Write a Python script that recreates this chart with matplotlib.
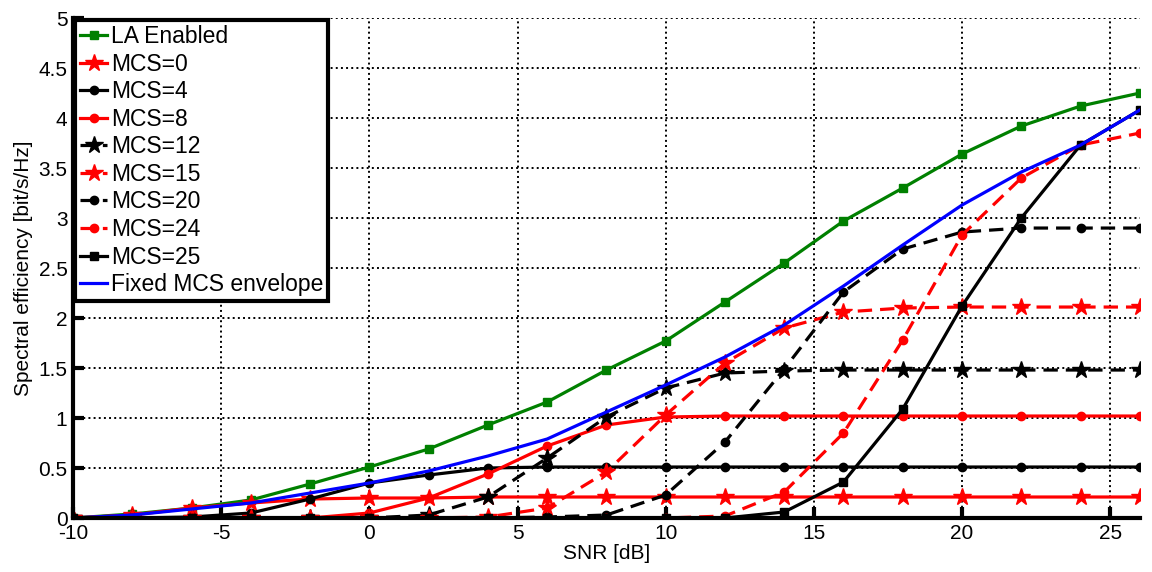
import numpy as np
import matplotlib
matplotlib.use("Agg")
import matplotlib.pyplot as plt
from matplotlib.ticker import FormatStrFormatter

plt.rcParams['font.family'] = ['Liberation Sans', 'DejaVu Sans']
plt.rcParams['axes.unicode_minus'] = False

# SNR grid [dB]
snr = list(range(-10, 27, 2))

# spectral efficiency [bit/s/Hz]
la_enabled = [0.0, 0.04, 0.10, 0.18, 0.34, 0.51, 0.69, 0.93, 1.16, 1.48,
              1.77, 2.16, 2.55, 2.97, 3.30, 3.64, 3.92, 4.12, 4.25]
mcs0 = [0.0, 0.03, 0.10, 0.15, 0.19, 0.20, 0.20, 0.21, 0.21, 0.21,
        0.21, 0.21, 0.21, 0.21, 0.21, 0.21, 0.21, 0.21, 0.21]
mcs4 = [0.0, 0.0, 0.01, 0.05, 0.19, 0.35, 0.43, 0.50, 0.51, 0.51,
        0.51, 0.51, 0.51, 0.51, 0.51, 0.51, 0.51, 0.51, 0.51]
mcs8 = [0.0, 0.0, 0.0, 0.0, 0.0, 0.05, 0.20, 0.44, 0.72, 0.93,
        1.01, 1.02, 1.02, 1.02, 1.02, 1.02, 1.02, 1.02, 1.02]
mcs12 = [0.0, 0.0, 0.0, 0.0, 0.0, 0.0, 0.03, 0.21, 0.60, 1.01,
         1.30, 1.45, 1.47, 1.48, 1.48, 1.48, 1.48, 1.48, 1.48]
mcs15 = [0.0, 0.0, 0.0, 0.0, 0.0, 0.0, 0.0, 0.01, 0.10, 0.46,
         1.03, 1.55, 1.90, 2.06, 2.10, 2.11, 2.11, 2.11, 2.11]
mcs20 = [0.0, 0.0, 0.0, 0.0, 0.0, 0.0, 0.0, 0.0, 0.01, 0.03,
         0.23, 0.76, 1.49, 2.26, 2.69, 2.86, 2.90, 2.90, 2.90]
mcs24 = [0.0, 0.0, 0.0, 0.0, 0.0, 0.0, 0.0, 0.0, 0.0, 0.0,
         0.0, 0.02, 0.26, 0.85, 1.78, 2.83, 3.40, 3.73, 3.85]
mcs25 = [0.0, 0.0, 0.0, 0.0, 0.0, 0.0, 0.0, 0.0, 0.0, 0.0,
         0.0, 0.0, 0.06, 0.36, 1.09, 2.12, 3.00, 3.73, 4.08]
envelope = [0.0, 0.03, 0.09, 0.15, 0.25, 0.35, 0.47, 0.62, 0.79, 1.06,
            1.33, 1.61, 1.93, 2.32, 2.73, 3.13, 3.46, 3.73, 4.08]

dash = (0, (4.5, 2.5))
lw = 2.3

fig = plt.figure(figsize=(11.52, 5.72), dpi=100)
ax = fig.add_axes([0.0634, 0.0944, 0.926, 0.874])

ax.plot(snr, la_enabled, color='#008000', lw=lw, marker='s', ms=6, label='LA Enabled')
ax.plot(snr, mcs0, color='red', lw=lw, marker='*', ms=13, label='MCS=0')
ax.plot(snr, mcs4, color='black', lw=lw, marker='o', ms=6, label='MCS=4')
ax.plot(snr, mcs8, color='red', lw=lw, marker='o', ms=6, label='MCS=8')
ax.plot(snr, mcs12, color='black', lw=lw, ls=dash, marker='*', ms=13, label='MCS=12')
ax.plot(snr, mcs15, color='red', lw=lw, ls=dash, marker='*', ms=13, label='MCS=15')
ax.plot(snr, mcs20, color='black', lw=lw, ls=dash, marker='o', ms=6, label='MCS=20')
ax.plot(snr, mcs24, color='red', lw=lw, ls=dash, marker='o', ms=6, label='MCS=24')
ax.plot(snr, mcs25, color='black', lw=lw, marker='s', ms=6, label='MCS=25')
ax.plot(snr, envelope, color='blue', lw=lw, label='Fixed MCS envelope')

ax.set_xlim(-10, 26)
ax.set_ylim(0, 5)
ax.set_xticks(range(-10, 26, 5))
ax.set_yticks(np.arange(0, 5.01, 0.5))
ax.yaxis.set_major_formatter(FormatStrFormatter('%g'))
ax.grid(True, color='black', ls=':', lw=1.4)
ax.set_axisbelow(True)

for side in ['top', 'right']:
    ax.spines[side].set_visible(False)
for side in ['left', 'bottom']:
    ax.spines[side].set_linewidth(3)
ax.tick_params(direction='in', length=8, width=3, labelsize=15, pad=4)

ax.set_xlabel('SNR [dB]', fontsize=15, labelpad=1)
ax.set_ylabel('Spectral efficiency [bit/s/Hz]', fontsize=15, labelpad=4)

leg = ax.legend(loc='upper left', fontsize=16.5, fancybox=False, framealpha=1,
                edgecolor='black', borderpad=0.2, labelspacing=0.2,
                handlelength=1.2, handletextpad=0.15, borderaxespad=0.1)
leg.get_frame().set_linewidth(3)

fig.savefig('out.png', dpi=100)
